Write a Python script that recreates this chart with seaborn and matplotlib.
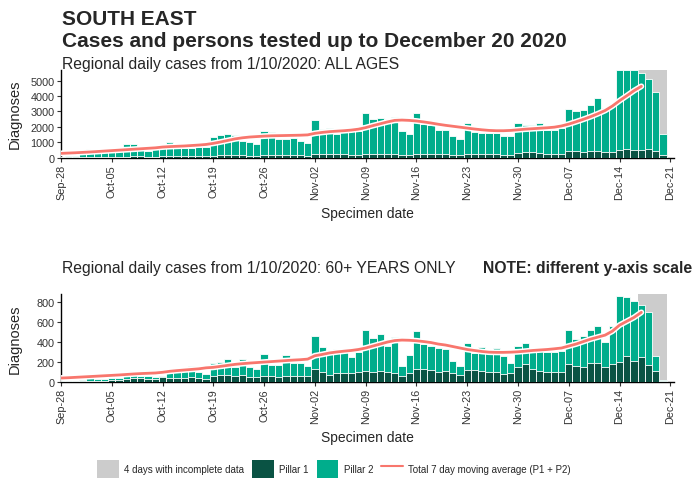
import numpy as np
import pandas as pd
import matplotlib
matplotlib.use("Agg")
import matplotlib.pyplot as plt
import seaborn as sns
from matplotlib.patches import Patch
from matplotlib.lines import Line2D

# ---------------- data (Sep-28 .. Dec-20, one value per day) ----------------
tick_labels = ['Sep-28', 'Oct-05', 'Oct-12', 'Oct-19', 'Oct-26', 'Nov-02', 'Nov-09',
               'Nov-16', 'Nov-23', 'Nov-30', 'Dec-07', 'Dec-14', 'Dec-21']

all_total = [70, 110, 140, 210, 550, 300, 340,
             400, 460, 870, 870, 540, 420, 560,
             600, 1040, 620, 640, 650, 690, 700,
             1330, 1500, 1540, 1480, 1100, 1050, 880,
             1740, 1650, 1220, 1240, 1280, 1100, 930,
             2430, 1850, 1910, 1560, 1700, 1700, 1760,
             2890, 2520, 2600, 2520, 2650, 1720, 1540,
             2870, 2200, 2090, 1800, 1800, 1390, 1200,
             2280, 1650, 1610, 1610, 1590, 1390, 1390,
             2280, 2150, 2150, 2240, 1800, 1800, 1910,
             3150, 3000, 3090, 3390, 3870, 3200, 3500,
             5700, 5700, 5660, 5500, 5130, 4260, 1520]
all_pillar1 = [20, 25, 30, 40, 60, 50, 50,
               60, 70, 70, 90, 90, 70, 60,
               80, 90, 110, 100, 100, 90, 80,
               140, 170, 180, 170, 150, 140, 110,
               190, 180, 160, 170, 170, 150, 130,
               260, 230, 210, 210, 220, 200, 200,
               250, 240, 250, 230, 230, 180, 200,
               270, 260, 250, 230, 240, 200, 170,
               240, 240, 230, 220, 220, 190, 190,
               290, 380, 340, 280, 250, 240, 240,
               420, 420, 390, 420, 440, 350, 380,
               520, 560, 530, 500, 560, 460, 150]
all_avg = [280, 300, 320, 345, 370, 400, 430,
           460, 490, 520, 550, 580, 610, 640,
           690, 720, 740, 760, 790, 820, 860,
           930, 1020, 1120, 1220, 1290, 1340, 1370,
           1400, 1420, 1430, 1440, 1450, 1460, 1480,
           1580, 1640, 1690, 1720, 1750, 1790, 1850,
           1950, 2080, 2200, 2320, 2420, 2440, 2420,
           2380, 2320, 2250, 2170, 2100, 2040, 1980,
           1920, 1860, 1810, 1770, 1750, 1750, 1770,
           1810, 1850, 1880, 1910, 1940, 1980, 2060,
           2180, 2330, 2490, 2660, 2850, 3060, 3350,
           3700, 4020, 4350, 4630]

old_total = [8, 10, 12, 20, 75, 25, 30,
             35, 40, 55, 108, 60, 60, 45,
             60, 120, 135, 130, 160, 95, 80,
             185, 195, 225, 150, 230, 150, 130,
             275, 165, 170, 270, 190, 185, 160,
             457, 353, 296, 330, 310, 245, 296,
             520, 437, 480, 363, 454, 160, 270,
             514, 380, 363, 336, 330, 212, 155,
             390, 289, 346, 296, 343, 262, 185,
             363, 387, 296, 340, 296, 296, 306,
             521, 427, 457, 524, 558, 397, 558,
             867, 850, 810, 776, 700, 255, 17]
old_pillar1 = [3, 4, 5, 8, 10, 10, 12,
               15, 20, 30, 35, 35, 30, 25,
               45, 40, 40, 35, 45, 35, 30,
               60, 65, 65, 60, 65, 50, 45,
               60, 55, 45, 60, 60, 55, 60,
               128, 95, 67, 85, 85, 85, 94,
               110, 94, 107, 94, 87, 60, 87,
               128, 128, 121, 94, 110, 85, 70,
               114, 114, 107, 94, 100, 80, 87,
               145, 178, 128, 110, 100, 94, 94,
               178, 160, 145, 188, 188, 145, 178,
               195, 255, 205, 245, 171, 110, 10]
old_avg = [37, 40, 44, 48, 52, 56, 60,
           64, 68, 73, 78, 82, 85, 88,
           95, 105, 112, 118, 124, 130, 140,
           145, 155, 165, 175, 182, 188, 193,
           198, 203, 208, 213, 218, 222, 228,
           262, 275, 290, 300, 308, 315, 325,
           340, 360, 380, 400, 415, 420, 418,
           413, 405, 395, 380, 370, 355, 340,
           325, 315, 305, 298, 296, 296, 298,
           302, 308, 315, 320, 325, 332, 340,
           360, 380, 405, 430, 450, 470, 510,
           571, 610, 649, 700]

# ---------------- style ----------------
C_P1 = "#0a5344"
C_P2 = "#00ad8c"
C_LINE = "#f8766d"
C_GREY = "#cccccc"

sns.set_theme(style="ticks")
plt.rcParams['font.family'] = ['Liberation Sans', 'DejaVu Sans']

fig = plt.figure(figsize=(6.96, 4.85), dpi=100)
W, H = 696.0, 485.0

def make_axes(y_top, y_bot):
    return fig.add_axes([61 / W, (H - y_bot) / H, 613 / W, (y_bot - y_top) / H])

ax1 = make_axes(70.5, 158.7)
ax2 = make_axes(295.0, 382.7)

def draw_panel(ax, total, pillar1, avg, ymax, yticks):
    n = len(total)
    days = np.arange(n)
    df = pd.DataFrame({"day": days, "total": total, "p1": pillar1})
    ax.axvspan(n - 4.5, n - 0.5, color=C_GREY, lw=0, zorder=0)
    sns.barplot(data=df, x="day", y="total", native_scale=True, width=1.0,
                color=C_P2, saturation=1, edgecolor="white", linewidth=0.6,
                errorbar=None, ax=ax, zorder=2)
    sns.barplot(data=df, x="day", y="p1", native_scale=True, width=1.0,
                color=C_P1, saturation=1, edgecolor="white", linewidth=0.6,
                errorbar=None, ax=ax, zorder=3)
    dl = pd.DataFrame({"day": np.arange(len(avg)), "avg": avg})
    sns.lineplot(data=dl, x="day", y="avg", color="white", lw=4.2, ax=ax, zorder=4)
    sns.lineplot(data=dl, x="day", y="avg", color=C_LINE, lw=2.0, ax=ax, zorder=5)
    ax.set_xlim(0, 84.5)
    ax.set_ylim(0, ymax)
    ax.set_xticks(np.arange(0, 85, 7))
    ax.set_xticklabels(tick_labels, rotation=90, fontsize=7.8, color="#333333")
    ax.set_yticks(yticks)
    ax.set_yticklabels([str(v) for v in yticks], fontsize=7.8, color="#333333")
    ax.tick_params(axis="both", length=3, width=0.8, color="#333333", pad=1.5)
    for s in ["top", "right"]:
        ax.spines[s].set_visible(False)
    for s in ["left", "bottom"]:
        ax.spines[s].set_linewidth(1.0)
        ax.spines[s].set_color("black")
    ax.set_ylabel("Diagnoses", fontsize=10.5)
    ax.yaxis.set_label_coords(-0.064, 0.5)
    ax.set_xlabel("Specimen date", fontsize=10, labelpad=5)
    ax.set_facecolor("white")

draw_panel(ax1, all_total, all_pillar1, all_avg, 5720, [0, 1000, 2000, 3000, 4000, 5000])
draw_panel(ax2, old_total, old_pillar1, old_avg, 885, [0, 200, 400, 600, 800])

def ftext(x, y, s, **kw):
    fig.text(x / W, (H - y) / H, s, va="baseline", ha="left", **kw)

ftext(62, 25, "SOUTH EAST", fontsize=15, fontweight="bold")
ftext(62, 47, "Cases and persons tested up to December 20 2020", fontsize=15, fontweight="bold")
ftext(62, 69, "Regional daily cases from 1/10/2020: ALL AGES", fontsize=11.3)
ftext(62, 273, "Regional daily cases from 1/10/2020: 60+ YEARS ONLY", fontsize=11.3)
ftext(483, 273, "NOTE: different y-axis scale", fontsize=11.3, fontweight="bold")

handles = [Patch(facecolor=C_GREY, edgecolor="none"),
           Patch(facecolor=C_P1, edgecolor="none"),
           Patch(facecolor=C_P2, edgecolor="none"),
           Line2D([0], [0], color=C_LINE, lw=1.5)]
labels = ["4 days with incomplete data", "Pillar 1", "Pillar 2",
          "Total 7 day moving average (P1 + P2)"]
fig.legend(handles, labels, loc="center", bbox_to_anchor=(0.48, 0.031), ncol=4,
           frameon=False, fontsize=7, handlelength=2.2, handleheight=2.6,
           handletextpad=0.6, columnspacing=0.8)

fig.savefig("out.png", dpi=100, facecolor="white")
